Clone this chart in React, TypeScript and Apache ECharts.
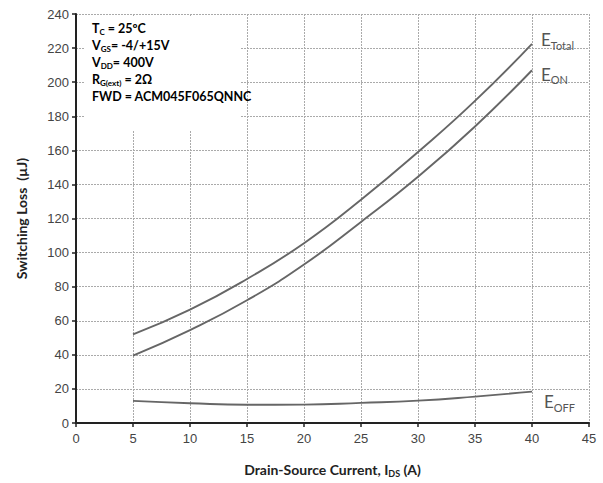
import React, { useEffect, useRef } from "react";
import * as echarts from "echarts";

const xTicks = [0, 5, 10, 15, 20, 25, 30, 35, 40, 45];
const current = [5, 10, 15, 20, 25, 30, 35, 40];
const eTotal = [52, 66.5, 84.5, 105.5, 131, 159, 189, 222.5];
const eOn = [39.5, 54.5, 72, 93, 118, 144.5, 174, 207];
const eOff = [13, 11.6, 10.7, 10.8, 11.8, 13.1, 15.5, 18.4];
const annotationLines = [
  "{b|T}{s|C}{b| = 25ºC}",
  "{b|V}{s|GS}{b|= -4/+15V}",
  "{b|V}{s|DD}{b|= 400V}",
  "{b|R}{s|G(ext)}{b| = 2Ω}",
  "{b|FWD = ACM045F065QNNC}",
];

const pair = (ys: number[]) => ys.map((y, i) => [current[i], y]);

export default function App() {
  const ref = useRef<HTMLDivElement>(null);
  useEffect(() => {
    if (!ref.current) return;
    const chart = echarts.init(ref.current, null, { renderer: "svg" });
    const lineColor = "#666";
    const labelRich = {
      m: { fontSize: 17, color: "#555", fontFamily: "Lato" },
      s: { fontSize: 11, color: "#555", fontFamily: "Lato", padding: [11, 0, 0, 0] },
    };
    const mkSeries = (name: string, ys: number[], sub: string, offset: number[]) => ({
      type: "line",
      name,
      data: pair(ys),
      smooth: true,
      symbol: "none",
      lineStyle: { color: lineColor, width: 1.9 },
      endLabel: {
        show: true,
        formatter: `{m|E}{s|${sub}}`,
        offset,
        rich: labelRich,
      },
    });
    const gridLine = { show: true, lineStyle: { type: [2, 1], color: "#aaa", width: 1 } };
    chart.setOption({
      animation: false,
      backgroundColor: "#fff",
      grid: { left: 76, right: 14, top: 14, bottom: 56 },
      xAxis: {
        type: "value",
        min: xTicks[0],
        max: xTicks[xTicks.length - 1],
        interval: 5,
        name: "Drain-Source Current, I{s|DS} (A)",
        nameLocation: "middle",
        nameGap: 38,
        nameTextStyle: {
          fontFamily: "Lato",
          fontWeight: "bold",
          fontSize: 14,
          color: "#222",
          rich: {
            s: { fontFamily: "Lato", fontWeight: "bold", fontSize: 9, color: "#222", padding: [8, 0, 0, 0] },
          },
        },
        axisLine: { lineStyle: { color: "#222", width: 2 } },
        axisTick: { show: true, length: 4, lineStyle: { color: "#222", width: 1.5 } },
        axisLabel: { fontFamily: "Liberation Sans", fontSize: 13, color: "#444", margin: 9 },
        splitLine: gridLine,
      },
      yAxis: {
        type: "value",
        min: 0,
        max: 240,
        interval: 20,
        name: "Switching Loss  (µJ)",
        nameLocation: "middle",
        nameGap: 48,
        nameTextStyle: { fontFamily: "Lato", fontWeight: "bold", fontSize: 14, color: "#222" },
        axisLine: { show: true, lineStyle: { color: "#222", width: 2 } },
        axisTick: { show: true, length: 4, lineStyle: { color: "#222", width: 1.5 } },
        axisLabel: { fontFamily: "Liberation Sans", fontSize: 13, color: "#444", margin: 7 },
        splitLine: gridLine,
      },
      series: [
        mkSeries("E_Total", eTotal, "Total", [1, -4]),
        mkSeries("E_ON", eOn, "ON", [1, 4]),
        mkSeries("E_OFF", eOff, "OFF", [4, 10]),
      ],
      graphic: [
        {
          type: "rect",
          shape: { x: 84, y: 17, width: 157, height: 113 },
          style: { fill: "#fff" },
          z: 10,
        },
        {
          type: "text",
          x: 92,
          y: 20,
          z: 11,
          style: {
            text: annotationLines.join("\n"),
            rich: {
              b: { fontFamily: "Lato", fontWeight: "bold", fontSize: 12.5, color: "#222", lineHeight: 17 },
              s: { fontFamily: "Lato", fontWeight: "bold", fontSize: 8, color: "#222", lineHeight: 17, padding: [7, 0, 0, 0] },
            },
          },
        },
      ],
    });
    return () => chart.dispose();
  }, []);
  return <div ref={ref} style={{ width: 603, height: 483, position: "absolute", left: 0, top: 0 }} />;
}
